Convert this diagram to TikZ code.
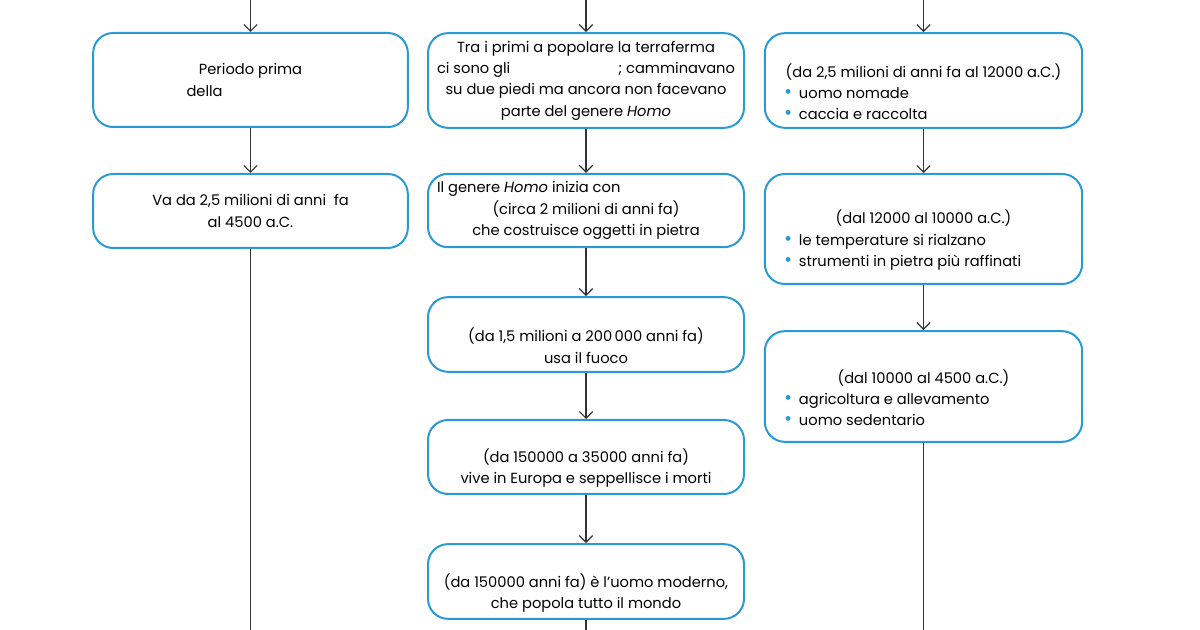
\documentclass[tikz,border=0pt]{standalone}
\usepackage{fontspec}
\setmainfont{Poppins}
\usepackage{xcolor}
\usepackage{tikz}
\usetikzlibrary{arrows.meta}

\definecolor{boxblue}{HTML}{2A9AD4}
\definecolor{linegray}{HTML}{333333}
\newcommand{\dotitem}[2][5pt]{\makebox[211pt][l]{\hspace{1pt}\textcolor{boxblue}{\scalebox{1.35}{\textbullet}}\hspace{#1}#2}}

\begin{document}
\begin{tikzpicture}[x=0.75pt, y=-0.75pt,
    box/.style={rectangle, draw=boxblue, line width=1.5pt, rounded corners=15pt, align=center, inner sep=2pt,
        font=\fontsize{11}{16}\selectfont},
    colL/.style={box, minimum width=236pt},
    colM/.style={box, minimum width=237pt},
    colR/.style={box, minimum width=238pt},
    arrow/.style={-{Straight Barb[length=5pt, width=10pt]}, draw=linegray, line width=0.9pt},
    link/.style={draw=linegray, line width=0.9pt}
]
    \useasboundingbox (0,0) rectangle (1200,630);

    % Ends at the page border
    \coordinate (topL) at (250.5,0);
    \coordinate (topM) at (586,0);
    \coordinate (topR) at (923.5,0);
    \coordinate (botL) at (250.5,630);
    \coordinate (botM) at (586,630);
    \coordinate (botR) at (923.5,630);

    % Left column
    \node[colL, minimum height=70.5pt] (prima) at (250.5,80) {Periodo prima\\ \makebox[96pt][l]{della}};
    \node[colL, minimum height=55.5pt] (durata) at (250.5,211) {Va da 2,5 milioni di anni \ fa\\ al 4500 a.C.};

    % Middle column
    \node[colM, minimum height=71pt] (primi) at (586,80.5) {Tra i primi a popolare la terraferma\\ ci sono gli\hspace{81pt}; camminavano\\ su due piedi ma ancora non facevano\\ parte del genere \emph{Homo}};
    \node[colM, minimum height=55pt] (habilis) at (586,210.5) {\makebox[223.5pt][l]{Il genere \emph{Homo} inizia con}\\ (circa 2 milioni di anni fa)\\ che costruisce oggetti in pietra};
    \node[colM, minimum height=56pt] (erectus) at (586,334.5) {\strut\\ (da 1,5 milioni a 200\,000 anni fa)\\ usa il fuoco};
    \node[colM, minimum height=55.5pt] (neander) at (586,457) {\strut\\ (da 150000 a 35000 anni fa)\\ vive in Europa e seppellisce i morti};
    \node[colM, minimum height=56pt] (sapiens) at (586,581.5) {\strut\\ (da 150000 anni fa) è l’uomo moderno,\\ che popola tutto il mondo};

    % Right column
    \node[colR, minimum height=71pt] (paleo) at (923.5,80.5) {\strut\\ (da 2,5 milioni di anni fa al 12000 a.C.)\\ \dotitem{uomo nomade}\\ \dotitem[2pt]{\hspace{3pt}caccia e raccolta}};
    \node[colR, minimum height=82.5pt] (meso) at (923.5,229) {\strut\\ (dal 12000 al 10000 a.C.)\\ \dotitem{le temperature si rialzano}\\ \dotitem{strumenti in pietra più raffinati}};
    \node[colR, minimum height=83pt] (neo) at (923.5,386.5) {\strut\\ (dal 10000 al 4500 a.C.)\\ \dotitem{agricoltura e allevamento}\\ \dotitem{uomo sedentario}};

    % Arrows
    \draw[arrow] (topL) -- (prima);
    \draw[arrow] (prima) -- (durata);
    \draw[link] (durata) -- (botL);

    \draw[arrow] (topM) -- (primi);
    \draw[arrow] (primi) -- (habilis);
    \draw[arrow] (habilis) -- (erectus);
    \draw[arrow] (erectus) -- (neander);
    \draw[arrow] (neander) -- (sapiens);
    \draw[link] (sapiens) -- (botM);

    \draw[arrow] (topR) -- (paleo);
    \draw[arrow] (paleo) -- (meso);
    \draw[arrow] (meso) -- (neo);
    \draw[link] (neo) -- (botR);
\end{tikzpicture}
\end{document}
